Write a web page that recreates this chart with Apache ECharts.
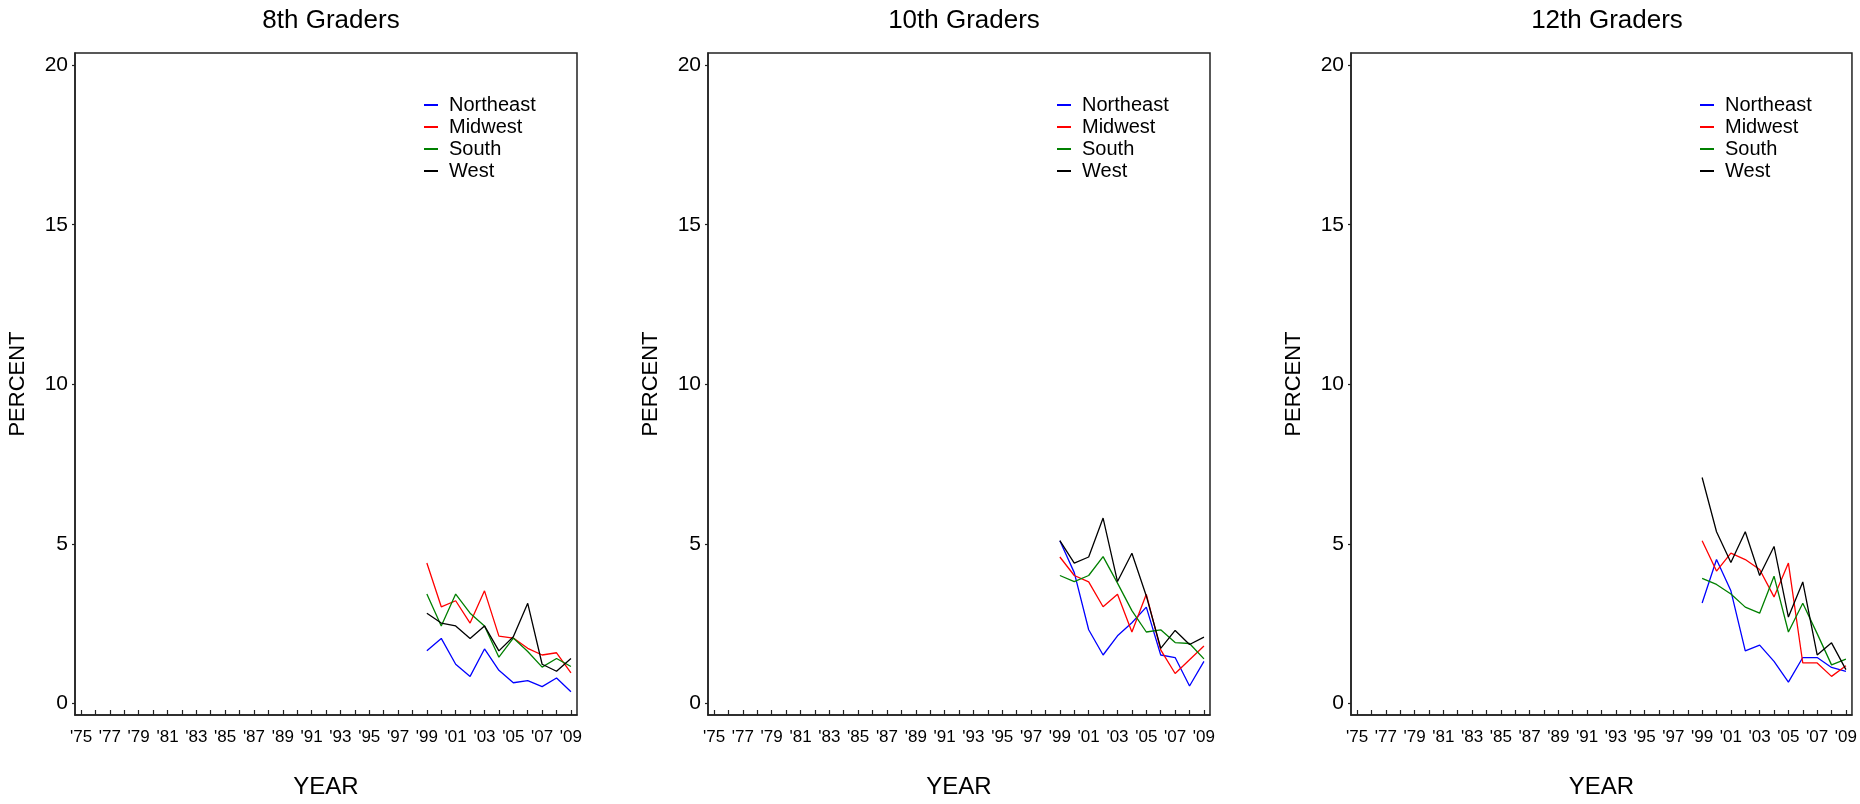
<!DOCTYPE html>
<html><head><meta charset="utf-8">
<script src="https://cdn.jsdelivr.net/npm/echarts@6/dist/echarts.min.js"></script>
<style>html,body{margin:0;padding:0;background:#fff}#c{width:1860px;height:804px}</style>
</head><body><div id="c"></div>
<script>
const years = [1999,2000,2001,2002,2003,2004,2005,2006,2007,2008,2009];
const panelTitles = ['8th Graders','10th Graders','12th Graders'];
const regions = ['Northeast','Midwest','South','West'];
const regionColors = ['#0000ff','#ff0000','#008000','#000000'];
const yTickValues = [0,5,10,15,20];
const xTickYears = []; for (let y = 1975; y <= 2009; y++) xTickYears.push(y);
const xLabelYears = xTickYears.filter(y => y % 2 === 1);

// 8th grade
const g8_northeast = [1.65,2.04,1.23,0.85,1.71,1.04,0.65,0.72,0.53,0.80,0.37];
const g8_midwest   = [4.40,3.03,3.22,2.52,3.53,2.11,2.05,1.73,1.52,1.59,0.96];
const g8_south     = [3.43,2.43,3.43,2.83,2.43,1.45,2.05,1.63,1.14,1.41,1.16];
const g8_west      = [2.83,2.52,2.43,2.04,2.43,1.65,2.09,3.14,1.23,1.01,1.41];
// 10th grade
const g10_northeast = [5.10,4.10,2.31,1.52,2.12,2.53,3.02,1.52,1.44,0.55,1.32];
const g10_midwest   = [4.59,4.01,3.81,3.03,3.42,2.24,3.42,1.68,0.94,1.37,1.80];
const g10_south     = [4.01,3.82,4.01,4.60,3.77,2.91,2.24,2.31,1.91,1.88,1.40];
const g10_west      = [5.10,4.40,4.59,5.81,3.82,4.71,3.37,1.73,2.29,1.85,2.08];
// 12th grade
const g12_northeast = [3.15,4.51,3.53,1.65,1.83,1.32,0.67,1.44,1.44,1.13,1.01];
const g12_midwest   = [5.10,4.15,4.71,4.51,4.20,3.34,4.40,1.27,1.27,0.85,1.18];
const g12_south     = [3.92,3.73,3.43,3.02,2.83,3.99,2.24,3.14,2.19,1.21,1.39];
const g12_west      = [7.08,5.38,4.42,5.38,4.01,4.92,2.71,3.81,1.52,1.90,1.06];

const panelData = [
  [g8_northeast, g8_midwest, g8_south, g8_west],
  [g10_northeast, g10_midwest, g10_south, g10_west],
  [g12_northeast, g12_midwest, g12_south, g12_west]
];

const FONT = '"Liberation Sans", Arial, sans-serif';
const gridLefts = [75, 708, 1351];
const gridW = 502, gridTop = 53, gridH = 669;

const option = {
  animation: false,
  backgroundColor: '#fff',
  textStyle: { fontFamily: FONT },
  title: [], grid: [], xAxis: [], yAxis: [], legend: [], series: []
};

for (let p = 0; p < 3; p++) {
  const L = gridLefts[p];
  option.title.push({
    text: panelTitles[p], left: L + gridW / 2, top: 3, textAlign: 'center',
    textStyle: { fontFamily: FONT, fontSize: 26, fontWeight: 'normal', color: '#000' }
  });
  option.grid.push({
    left: L, top: gridTop, width: gridW, height: gridH, show: true,
    borderColor: '#222', borderWidth: 1.5, backgroundColor: 'transparent'
  });
  option.xAxis.push({
    type: 'value', gridIndex: p, min: 1974.58, max: 2009.42,
    name: 'YEAR', nameLocation: 'middle', nameGap: 60,
    nameTextStyle: { fontFamily: FONT, fontSize: 24, color: '#000' },
    axisLine: { show: true, onZero: false, lineStyle: { color: '#222', width: 1.5 } },
    axisTick: { show: true, inside: true, length: 5, customValues: xTickYears, lineStyle: { color: '#222', width: 1.2 } },
    axisLabel: { show: true, margin: 14, customValues: xLabelYears, fontFamily: FONT, fontSize: 17, color: '#000',
      formatter: v => "'" + String(Math.round(v)).slice(2) },
    splitLine: { show: false }
  });
  option.yAxis.push({
    type: 'value', gridIndex: p, min: -0.36, max: 20.38,
    name: 'PERCENT', nameLocation: 'middle', nameGap: 46, nameRotate: 90,
    nameTextStyle: { fontFamily: FONT, fontSize: 22, color: '#000' },
    axisLine: { show: true, onZero: false, lineStyle: { color: '#222', width: 1.5 } },
    axisTick: { show: true, inside: false, length: 3, customValues: yTickValues, lineStyle: { color: '#222', width: 1.2 } },
    axisLabel: { show: true, margin: 7, customValues: yTickValues, fontFamily: FONT, fontSize: 21, color: '#000' },
    splitLine: { show: false }
  });
  option.legend.push({
    orient: 'vertical', left: L + gridW - 153, top: 94, padding: 0,
    itemWidth: 14, itemHeight: 2, itemGap: 0, icon: 'rect',
    textStyle: { fontFamily: FONT, fontSize: 20, color: '#000', lineHeight: 22, padding: [0, 0, 0, 6] },
    data: regions.map((r, i) => ({ name: r, itemStyle: { color: regionColors[i] } })),
    selectedMode: false
  });
  for (let r = 0; r < 4; r++) {
    option.series.push({
      name: regions[r], type: 'line', xAxisIndex: p, yAxisIndex: p,
      data: years.map((y, i) => [y, panelData[p][r][i]]),
      showSymbol: false, symbol: 'none',
      lineStyle: { color: regionColors[r], width: 1.3 },
      itemStyle: { color: regionColors[r] }
    });
  }
}

const chart = echarts.init(document.getElementById('c'), null, { renderer: 'canvas' });
chart.setOption(option);
</script>
</body></html>
